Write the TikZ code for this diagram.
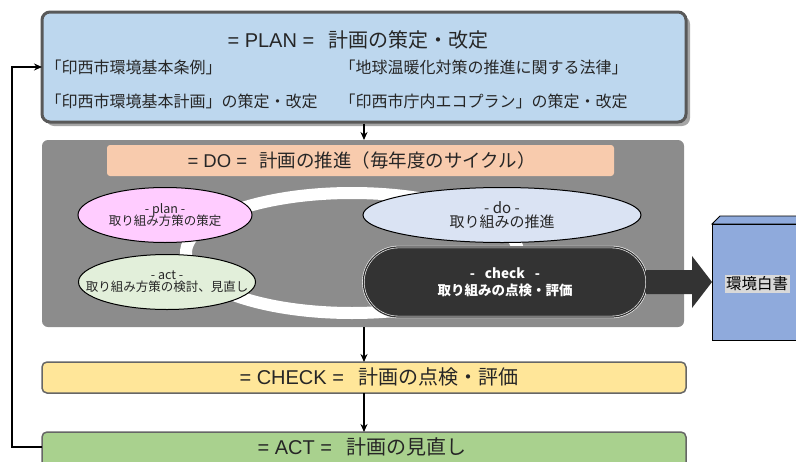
\documentclass[tikz,border=0pt]{standalone}
\usepackage{fontspec}
\setmainfont{Noto Sans CJK JP}
\newfontfamily\lat{Liberation Sans}
\usetikzlibrary{arrows.meta,shapes.geometric,shapes.misc}
\definecolor{planfill}{HTML}{BDD7EE}
\definecolor{dogray}{HTML}{8C8C8C}
\definecolor{dohead}{HTML}{F8CBAD}
\definecolor{pinkf}{HTML}{FFCCFF}
\definecolor{bluef}{HTML}{DAE3F3}
\definecolor{greenf}{HTML}{E2EFDA}
\definecolor{checkf}{HTML}{FFE699}
\definecolor{actf}{HTML}{A9D18E}
\definecolor{paper}{HTML}{8FAADC}
\definecolor{txt}{HTML}{262626}
\tikzset{
  phasebox/.style={draw=black!60, line width=1.5pt, rounded corners=5pt},
  cyc/.style={draw=black, line width=1pt, ellipse, inner sep=0pt},
  flow/.style={-{Stealth[length=8pt,width=7pt]}, line width=1.6pt},
  big/.style={font=\fontsize{20}{22}\selectfont, text=txt},
  mid/.style={font=\fontsize{16}{18}\selectfont, text=txt},
  small/.style={font=\fontsize{12.5}{14}\selectfont, text=txt, align=center},
}
\begin{document}
\begin{tikzpicture}[x=1pt,y=-1pt]
\useasboundingbox (0,0) rectangle (796,461);
\clip (0,0) rectangle (796,461);
% PLAN box
\fill[black!35, rounded corners=8pt] (46,16) rectangle (690,126);
\draw[draw=black!65, line width=3pt, rounded corners=8pt, fill=planfill] (42,12) rectangle (686,122);
\node[big, anchor=west] (plant) at (224,40) {{\lat = PLAN =}\hspace{14pt}計画の策定・改定};
\node[mid, anchor=west] (p1) at (42,67) {「印西市環境基本条例」};
\node[mid, anchor=west] (p2) at (336,67) {「地球温暖化対策の推進に関する法律」};
\node[mid, anchor=west] (p3) at (42,101) {「印西市環境基本計画」の策定・改定};
\node[mid, anchor=west] (p4) at (336,101) {「印西市庁内エコプラン」の策定・改定};
\coordinate (planL) at (42,67);
\coordinate (planB) at (364,123.5);
% DO box
\fill[dogray, rounded corners=6pt] (42,140) rectangle (684,327);
\coordinate (doT) at (364,140);
\coordinate (doB) at (364,327);
\fill[dohead, rounded corners=3pt] (107,145) rectangle (614,176);
\node[big, anchor=west, font=\fontsize{18.5}{20}\selectfont] (dot) at (184,160) {{\lat = DO =}\hspace{12pt}計画の推進（毎年度のサイクル）};
% white cycle ring
\draw[white, line width=12pt] (352,253) ellipse [x radius=166, y radius=60];
% cycle ellipses
\node[cyc, fill=pinkf, minimum width=174pt, minimum height=55pt] (plan) at (165,215) {};
\node[small] (plantx) at (plan) {- plan -\\[-2pt]取り組み方策の策定};
\node[cyc, fill=bluef, minimum width=278pt, minimum height=55pt] (do) at (502,215) {};
\node[small, font=\fontsize{15}{16}\selectfont] (dotx) at (do) {- do -\\[-2pt]取り組みの推進};
\node[cyc, fill=greenf, minimum width=177pt, minimum height=55pt] (act) at (167,282) {};
\node[small] (acttx) at (act) {- act -\\[-2pt]取り組み方策の検討、見直し};
% check stadium
\node[rounded rectangle, fill=black!80, draw=white, double=black!80, double distance=1.2pt, line width=0.6pt,
      minimum width=290pt, minimum height=70pt, text=white, align=center,
      font=\fontsize{13.5}{17}\selectfont\bfseries] (check) at (505,282) {-\hspace{10pt}check\hspace{10pt}-\\取り組みの点検・評価};
% white paper box
\filldraw[fill=paper, draw=black, line width=0.8pt] (712,224) -- (720,216) -- (800,216) -- (800,224) -- cycle;
\filldraw[fill=paper, draw=black, line width=0.8pt] (712,224) rectangle (800,340);
\node[fill=black!15, inner sep=1.5pt, font=\fontsize{15.5}{17}\selectfont, text=black] (wp) at (757,284) {環境白書};
\coordinate (paperL) at (712,282);
% big arrow
\fill[black!80] (646,270) -- (692,270) -- (692,256) -- (paperL) -- (692,308) -- (692,294) -- (646,294) -- cycle;
% CHECK box
\draw[phasebox, fill=checkf] (42,362) rectangle (686,393);
\node[big, anchor=west] (checkt) at (236,377) {{\lat = CHECK =}\hspace{14pt}計画の点検・評価};
\coordinate (ckT) at (364,362);
\coordinate (ckB) at (364,393);
% ACT box
\draw[phasebox, fill=actf] (42,432) rectangle (686,480);
\node[big, anchor=west] (actt) at (254,447) {{\lat = ACT =}\hspace{14pt}計画の見直し};
\coordinate (acT) at (364,432);
\coordinate (acL) at (42,447);
% connectors
\draw[flow] (planB) -- (doT);
\draw[flow] (doB) -- (ckT);
\draw[flow] (ckB) -- (acT);
\draw[flow] (acL) -- (12,447) -- (12,67) -- (planL);
\end{tikzpicture}
\end{document}
